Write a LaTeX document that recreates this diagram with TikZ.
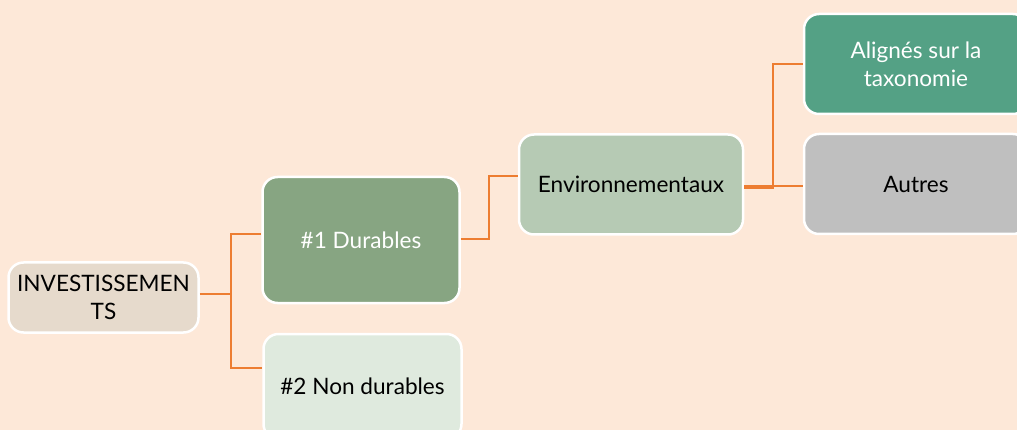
\documentclass[tikz,border=0pt]{standalone}
\usepackage{fontspec}
\setmainfont{Lato}
\usetikzlibrary{calc}
\definecolor{peach}{HTML}{FDE8D8}
\definecolor{taupe}{HTML}{E6DACC}
\definecolor{sage}{HTML}{87A582}
\definecolor{mint}{HTML}{DFEADE}
\definecolor{fern}{HTML}{B6CAB4}
\definecolor{jade}{HTML}{54A185}
\definecolor{stone}{HTML}{BFBFBF}
\definecolor{branch}{HTML}{ED7D31}
\tikzset{
	mapbox/.style={draw=white, line width=2.5pt, rounded corners=15pt, align=center,
		font=\fontsize{22.6}{28}\selectfont, inner sep=0pt},
	orangeline/.style={draw=branch, line width=2.2pt}
}

\begin{document}
\begin{tikzpicture}[x=1pt, y=-1pt]
			%%%%% START %%%%%
			
			\useasboundingbox (0, 0) rectangle (1017, 430);
			\clip (0, 0) rectangle (1017, 430);
			\fill[peach] (0, 0) rectangle (1017, 430);
			
			\node[mapbox, fill=taupe, minimum width=190pt, minimum height=70pt] (invest) at (103.5, 297.5) {INVESTISSEMEN\\TS};
			\node[mapbox, fill=sage, text=white, minimum width=197pt, minimum height=126pt] (durables) at (361, 240) {\#1 Durables};
			\node[mapbox, fill=mint, minimum width=198pt, minimum height=105pt] (nondurables) at (362.5, 386.5) {\#2 Non durables};
			
			\node[mapbox, fill=fern, minimum width=224pt, minimum height=100pt] (environ) at (631, 184.5) {Environnementaux};
			\node[mapbox, fill=jade, text=white, minimum width=224pt, minimum height=100pt] (aligned) at (916, 64) {Alignés sur la\\taxonomie};
			\node[mapbox, fill=stone, minimum width=224pt, minimum height=100pt] (others) at (916, 184) {Autres};
			
			\coordinate (forkA) at (231, 294);
			\draw[orangeline] ($(invest.east)+(0,-3.5)$) -- (forkA);
			\draw[orangeline] (forkA) |- ($(durables.west)+(0,-6)$);
			\draw[orangeline] (forkA) |- ($(nondurables.west)+(0,-18.5)$);
			
			\coordinate (forkB) at (489, 239);
			\draw[orangeline] ($(durables.east)+(0,-1)$) -- (forkB) |- ($(environ.west)+(0,-8.5)$);
			
			\coordinate (forkC) at (773, 188);
			\draw[orangeline] ($(environ.east)+(0,3.5)$) -- (forkC) |- (aligned.west);
			\draw[orangeline] ($(environ.east)+(0,1.5)$) -- ($(others.west)+(0,2)$);
			
			%%%%% END %%%%%
		\end{tikzpicture}
\end{document}
